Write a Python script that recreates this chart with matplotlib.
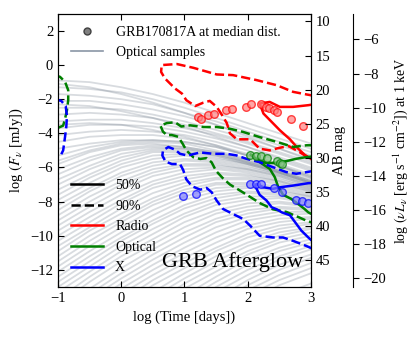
import matplotlib
matplotlib.use("Agg")
import matplotlib.pyplot as plt
from matplotlib.lines import Line2D

plt.rcParams["font.family"] = "Liberation Serif"
plt.rcParams["mathtext.fontset"] = "stix"
plt.rcParams["font.size"] = 10.5

# grey optical sample light curves, log F at these log times
sample_t = [-1, -0.5, 0, 0.5, 1, 1.5, 2, 2.5, 3]
samples = [
    [-0.9, -1.0, -1.3, -1.7, -2.2, -2.8, -3.4, -4.0, -4.6],
    [-1.1, -1.3, -1.7, -2.2, -2.8, -3.5, -4.2, -4.9, -5.6],
    [-1.3, -1.4, -1.6, -2.0, -2.5, -3.1, -3.7, -4.3, -4.9],
    [-1.7, -1.8, -2.0, -2.3, -2.8, -3.3, -3.9, -4.5, -5.1],
    [-2.1, -2.1, -2.3, -2.6, -3.0, -3.5, -4.1, -4.7, -5.3],
    [-2.3, -2.4, -2.7, -3.1, -3.6, -4.2, -4.8, -5.5, -6.1],
    [-2.5, -2.5, -2.6, -2.9, -3.3, -3.8, -4.3, -4.9, -5.5],
    [-2.9, -2.8, -2.9, -3.1, -3.5, -4.0, -4.5, -5.1, -5.7],
    [-3.3, -3.2, -3.2, -3.4, -3.7, -4.1, -4.6, -5.2, -5.8],
    [-3.5, -3.4, -3.5, -3.8, -4.2, -4.7, -5.3, -5.9, -6.6],
    [-3.7, -3.5, -3.5, -3.6, -3.9, -4.3, -4.8, -5.4, -6.0],
    [-4.1, -3.9, -3.8, -3.9, -4.1, -4.5, -5.0, -5.6, -6.2],
    [-4.5, -4.2, -4.1, -4.1, -4.3, -4.7, -5.2, -5.8, -6.4],
    [-4.9, -4.6, -4.4, -4.4, -4.5, -4.8, -5.3, -5.9, -6.5],
    [-5.3, -4.8, -4.5, -4.4, -4.5, -4.8, -5.3, -5.9, -6.5],
    [-5.6, -5.0, -4.6, -4.5, -4.6, -5.0, -5.5, -6.0, -6.6],
    [-5.8, -5.1, -4.7, -4.6, -4.8, -5.1, -5.6, -6.1, -6.7],
    [-6.1, -5.4, -4.9, -4.7, -4.8, -5.1, -5.6, -6.2, -6.8],
    [-6.4, -5.6, -5.0, -4.8, -4.9, -5.2, -5.7, -6.3, -6.9],
    [-6.7, -5.9, -5.2, -4.9, -4.9, -5.2, -5.7, -6.2, -6.8],
    [-7.0, -6.1, -5.4, -5.0, -5.0, -5.3, -5.7, -6.2, -6.8],
    [-7.3, -6.4, -5.6, -5.1, -5.1, -5.3, -5.8, -6.3, -6.9],
    [-7.6, -6.6, -5.8, -5.3, -5.2, -5.4, -5.8, -6.3, -6.9],
    [-7.9, -6.9, -6.0, -5.5, -5.3, -5.5, -5.8, -6.3, -6.9],
    [-8.2, -7.2, -6.3, -5.7, -5.5, -5.6, -5.9, -6.4, -7.0],
    [-8.5, -7.4, -6.5, -5.9, -5.6, -5.7, -6.0, -6.4, -7.0],
    [-8.8, -7.7, -6.8, -6.1, -5.8, -5.8, -6.1, -6.5, -7.1],
    [-9.1, -8.0, -7.0, -6.3, -5.9, -5.9, -6.1, -6.5, -7.1],
    [-9.4, -8.3, -7.3, -6.5, -6.1, -6.0, -6.2, -6.6, -7.2],
    [-9.7, -8.6, -7.6, -6.8, -6.3, -6.1, -6.3, -6.7, -7.2],
    [-10.0, -8.9, -7.9, -7.0, -6.5, -6.3, -6.4, -6.8, -7.3],
    [-10.3, -9.2, -8.1, -7.2, -6.7, -6.4, -6.5, -6.8, -7.3],
    [-10.6, -9.5, -8.4, -7.5, -6.9, -6.6, -6.6, -6.9, -7.4],
    [-10.9, -9.7, -8.7, -7.8, -7.1, -6.7, -6.7, -7.0, -7.4],
    [-11.2, -10.0, -9.0, -8.0, -7.3, -6.9, -6.9, -7.1, -7.5],
    [-11.5, -10.3, -9.2, -8.2, -7.5, -7.0, -7.0, -7.2, -7.6],
    [-11.8, -10.6, -9.5, -8.5, -7.7, -7.2, -7.1, -7.3, -7.7],
    [-12.1, -10.9, -9.8, -8.8, -7.9, -7.4, -7.2, -7.4, -7.7],
    [-12.4, -11.2, -10.1, -9.1, -8.2, -7.6, -7.4, -7.5, -7.8],
    [-12.7, -11.5, -10.3, -9.3, -8.4, -7.8, -7.5, -7.6, -7.9],
    [-13.0, -11.8, -10.6, -9.6, -8.7, -8.0, -7.7, -7.7, -8.0],
    [-13.3, -12.1, -10.9, -9.9, -8.9, -8.2, -7.9, -7.8, -8.1],
    [-13.7, -12.4, -11.2, -10.2, -9.2, -8.5, -8.1, -8.0, -8.2],
    [-14.0, -12.7, -11.5, -10.5, -9.5, -8.7, -8.3, -8.1, -8.3],
    [-14.4, -13.1, -11.9, -10.8, -9.8, -9.0, -8.5, -8.3, -8.4],
    [-14.7, -13.4, -12.2, -11.1, -10.1, -9.2, -8.7, -8.4, -8.5],
    [-15.1, -13.7, -12.5, -11.4, -10.4, -9.5, -8.9, -8.6, -8.6],
    [-15.4, -14.0, -12.8, -11.7, -10.7, -9.8, -9.1, -8.8, -8.7],
    [-15.8, -14.4, -13.1, -12.0, -11.0, -10.1, -9.4, -9.0, -8.9],
    [-16.2, -14.7, -13.4, -12.3, -11.3, -10.4, -9.6, -9.2, -9.0],
    [-16.6, -15.1, -13.8, -12.6, -11.6, -10.7, -9.9, -9.4, -9.2],
    [-17.0, -15.5, -14.1, -12.9, -11.9, -10.9, -10.1, -9.6, -9.3],
    [-17.4, -15.9, -14.5, -13.3, -12.2, -11.2, -10.4, -9.8, -9.5],
    [-17.8, -16.3, -14.9, -13.6, -12.5, -11.5, -10.6, -10.0, -9.6],
    [-18.2, -16.7, -15.3, -14.0, -12.8, -11.8, -10.9, -10.2, -9.8],
    [-18.6, -17.1, -15.7, -14.4, -13.1, -12.1, -11.1, -10.4, -10.0],
    [-19.0, -17.5, -16.1, -14.8, -13.5, -12.4, -11.4, -10.7, -10.2],
    [-19.5, -17.9, -16.5, -15.1, -13.8, -12.7, -11.7, -10.9, -10.4],
    [-20.0, -18.4, -16.9, -15.5, -14.2, -13.0, -12.0, -11.2, -10.6],
    [-20.5, -18.8, -17.3, -15.9, -14.6, -13.3, -12.3, -11.4, -10.8],
    [-21.0, -19.3, -17.7, -16.3, -15.0, -13.7, -12.6, -11.7, -11.1],
    [-21.5, -19.7, -18.1, -16.7, -15.3, -14.0, -12.9, -12.0, -11.3],
    [-22.0, -20.2, -18.6, -17.1, -15.7, -14.4, -13.2, -12.3, -11.6],
    [-22.5, -20.7, -19.0, -17.5, -16.1, -14.7, -13.5, -12.6, -11.9],
    [-23.0, -21.2, -19.5, -17.9, -16.5, -15.1, -13.9, -12.9, -12.2],
    [-24.0, -22.2, -20.4, -18.8, -17.3, -15.9, -14.6, -13.5, -12.8],
]

# GRB170817A data points at the median distance
radio_pts_t = [1.22, 1.26, 1.38, 1.46, 1.66, 1.75, 1.97, 2.05, 2.21, 2.29, 2.34, 2.42, 2.47, 2.68, 2.88]
radio_pts_f = [-3.04, -3.16, -2.90, -2.84, -2.65, -2.55, -2.45, -2.29, -2.31, -2.45, -2.49, -2.65, -2.76, -3.14, -3.59]
opt_pts_t = [2.04, 2.13, 2.21, 2.30, 2.47, 2.51, 2.55]
opt_pts_f = [-5.24, -5.35, -5.35, -5.43, -5.63, -5.75, -5.82]
x_pts_t = [0.97, 1.18, 2.04, 2.13, 2.21, 2.42, 2.55, 2.76, 2.86, 2.96]
x_pts_f = [-7.65, -7.55, -6.96, -6.96, -6.96, -7.22, -7.45, -7.88, -7.94, -8.10]

# 50% / 90% contours
radio50_t = [3.05, 2.96, 2.72, 2.51, 2.35, 2.19, 2.25, 2.38, 2.51, 2.67, 2.80, 2.90, 3.05]
radio50_f = [-2.30, -2.35, -2.45, -2.45, -2.16, -2.25, -2.84, -3.33, -3.82, -4.35, -4.90, -5.25, -5.60]
radio90_t = [3.05, 2.93, 2.72, 2.46, 2.14, 1.77, 1.51, 1.14, 0.88, 0.64, 0.63, 0.69, 0.85, 0.96, 1.03,
             1.17, 1.30, 1.40, 1.51, 1.59, 1.67, 1.72, 1.83, 2.04, 2.19, 2.35, 2.50, 2.65, 2.80, 2.95, 3.05]
radio90_f = [-1.80, -1.72, -1.57, -1.18, -0.88, -0.59, -0.55, -0.16, 0.06, 0.00, -0.40, -0.78, -1.37, -1.67, -2.06,
             -2.40, -2.20, -2.10, -2.45, -2.90, -3.40, -4.00, -4.35, -4.35, -4.90, -5.00, -4.85, -4.75, -5.05, -5.40, -5.60]
opt50_t = [3.05, 2.93, 2.77, 2.61, 2.45, 2.30, 2.15, 2.05, 2.10, 2.19, 2.35, 2.43, 2.48, 2.56, 2.69, 2.80, 2.90, 2.96, 3.05]
opt50_f = [-5.35, -5.39, -5.49, -5.63, -5.72, -5.75, -5.55, -5.25, -5.40, -5.69, -6.08, -6.57, -7.10, -7.60, -7.84, -8.14, -8.43, -8.63, -8.80]
opt90_t = [3.05, 2.93, 2.72, 2.46, 2.19, 1.93, 1.72, 1.51, 1.30, 1.09, 0.95, 0.85, 0.72, 0.62, 0.66, 0.72, 0.80,
           0.90, 0.97, 1.03, 1.14, 1.25, 1.35, 1.43, 1.50, 1.60, 1.72, 1.90, 2.05, 2.20, 2.40, 2.61, 2.80, 2.95, 3.05]
opt90_f = [-4.70, -4.70, -4.80, -4.50, -4.22, -3.92, -3.73, -3.63, -3.63, -3.53, -3.60, -3.35, -3.40, -3.55, -3.90, -4.10, -4.10,
           -4.20, -4.60, -5.00, -5.40, -5.50, -5.45, -5.70, -6.20, -6.60, -7.00, -7.40, -7.75, -8.10, -8.45, -8.60, -8.90, -9.15, -9.25]
opt90_early_t = [-1.05, -0.97, -0.89, -0.84, -0.84, -0.86, -0.89, -0.92, -1.05]
opt90_early_f = [-0.60, -0.69, -0.98, -1.47, -2.06, -2.65, -3.14, -3.55, -3.75]
x50_t = [3.05, 2.96, 2.72, 2.51, 2.40, 2.25, 2.14, 2.12, 2.19, 2.30, 2.38, 2.46, 2.54, 2.67, 2.77, 2.85, 2.96, 3.05]
x50_f = [-6.90, -6.92, -7.06, -7.16, -7.25, -7.16, -6.96, -7.10, -7.60, -7.94, -8.33, -8.45, -8.63, -8.80, -9.30, -9.70, -10.10, -10.40]
x90_t = [3.05, 2.77, 2.61, 2.40, 2.19, 1.98, 1.82, 1.67, 1.46, 1.25, 1.05, 0.93, 0.85, 0.745, 0.66, 0.65, 0.70, 0.80, 0.93,
         0.98, 1.03, 1.12, 1.25, 1.35, 1.43, 1.51, 1.61, 1.77, 1.93, 2.04, 2.19, 2.40, 2.56, 2.72, 2.93, 3.05]
x90_f = [-6.20, -6.37, -6.27, -5.98, -5.69, -5.49, -5.29, -5.20, -5.20, -5.12, -5.30, -5.20, -4.95, -4.80, -5.00, -5.30, -5.65, -5.80, -5.80,
         -6.15, -6.70, -7.10, -7.30, -7.20, -7.45, -7.94, -8.43, -8.73, -9.02, -9.41, -10.00, -10.10, -10.10, -10.30, -10.60, -10.80]
x90_early_t = [-1.05, -0.95, -0.88, -0.86, -0.87, -0.89, -0.92, -0.96, -1.05]
x90_early_f = [-2.00, -2.10, -2.40, -3.00, -3.60, -4.20, -5.00, -5.30, -5.50]

mag_ticks = [10, 15, 20, 25, 30, 35, 40, 45]
lum_ticks = [-20, -18, -16, -14, -12, -10, -8, -6]

fig = plt.figure(figsize=(4.15, 3.38), dpi=100)
ax = fig.add_axes([0.140, 0.151, 0.609, 0.808])

for f in samples:
    ax.plot(sample_t, f, color="#74808f", lw=1.3, alpha=0.28, zorder=1)

ax.plot(radio90_t, radio90_f, color="red", ls="--", lw=1.8, zorder=3)
ax.plot(radio50_t, radio50_f, color="red", lw=1.8, zorder=3)
ax.plot(opt90_t, opt90_f, color="green", ls="--", lw=1.8, zorder=3)
ax.plot(opt90_early_t, opt90_early_f, color="green", ls="--", lw=1.8, zorder=3)
ax.plot(opt50_t, opt50_f, color="green", lw=1.8, zorder=3)
ax.plot(x90_t, x90_f, color="blue", ls="--", lw=1.8, zorder=3)
ax.plot(x90_early_t, x90_early_f, color="blue", ls="--", lw=1.8, zorder=3)
ax.plot(x50_t, x50_f, color="blue", lw=1.8, zorder=3)

ax.plot(radio_pts_t, radio_pts_f, "o", ms=5.5, mfc="#ff8080", mec="red", mew=1.0, alpha=0.7, zorder=4)
ax.plot(opt_pts_t, opt_pts_f, "o", ms=5.5, mfc="#80c080", mec="green", mew=1.0, alpha=0.7, zorder=4)
ax.plot(x_pts_t, x_pts_f, "o", ms=5.5, mfc="#8080ff", mec="blue", mew=1.0, alpha=0.7, zorder=4)

ax.set_xlim(-1, 3)
ax.set_ylim(-13, 3)
ax.set_xticks([-1, 0, 1, 2, 3])
ax.set_yticks([-12, -10, -8, -6, -4, -2, 0, 2])
ax.tick_params(direction="in", top=True, length=4)
ax.set_xlabel("log (Time [days])")
ax.set_ylabel(r"log $(F_\nu$ [mJy])")
ax.text(0.97, 0.09, "GRB Afterglow", transform=ax.transAxes, ha="right", va="center", fontsize=16)

h1 = [Line2D([], [], ls="none", marker="o", ms=5, mfc="#808080", mec="#404040"),
      Line2D([], [], color="#8a96a6", lw=1.2)]
leg1 = ax.legend(h1, ["GRB170817A at median dist.", "Optical samples"], loc="upper left", frameon=False,
                 fontsize=10, handlelength=2.3, handletextpad=1.0)
ax.add_artist(leg1)
h2 = [Line2D([], [], color="black", lw=1.8),
      Line2D([], [], color="black", lw=1.8, ls="--"),
      Line2D([], [], color="red", lw=1.8),
      Line2D([], [], color="green", lw=1.8),
      Line2D([], [], color="blue", lw=1.8)]
ax.legend(h2, ["50%", "90%", "Radio", "Optical", "X"], loc="lower left", frameon=False,
          fontsize=10, handlelength=2.3, handletextpad=0.9, labelspacing=0.55)

# AB magnitude axis: m = 16.4 - 2.5 log F[mJy]
ax_mag = ax.twinx()
ax_mag.set_ylim(16.4 + 2.5 * 13, 16.4 - 2.5 * 3)
ax_mag.set_yticks(mag_ticks)
ax_mag.tick_params(direction="in", length=4)
ax_mag.set_ylabel("AB mag", labelpad=2)

# luminosity axis at 1 keV
ax_lum = ax.twinx()
ax_lum.spines["right"].set_position(("outward", 30))
for s in ["left", "top", "bottom"]:
    ax_lum.spines[s].set_visible(False)
ax_lum.set_ylim(-13 - 7.5, 3 - 7.5)
ax_lum.set_yticks(lum_ticks)
ax_lum.tick_params(direction="out", length=4)
ax_lum.set_ylabel(r"log $(\nu L_\nu$ [erg s$^{-1}$ cm$^{-2}$]) at 1 keV", fontsize=10)

fig.savefig("out.png", dpi=100)
